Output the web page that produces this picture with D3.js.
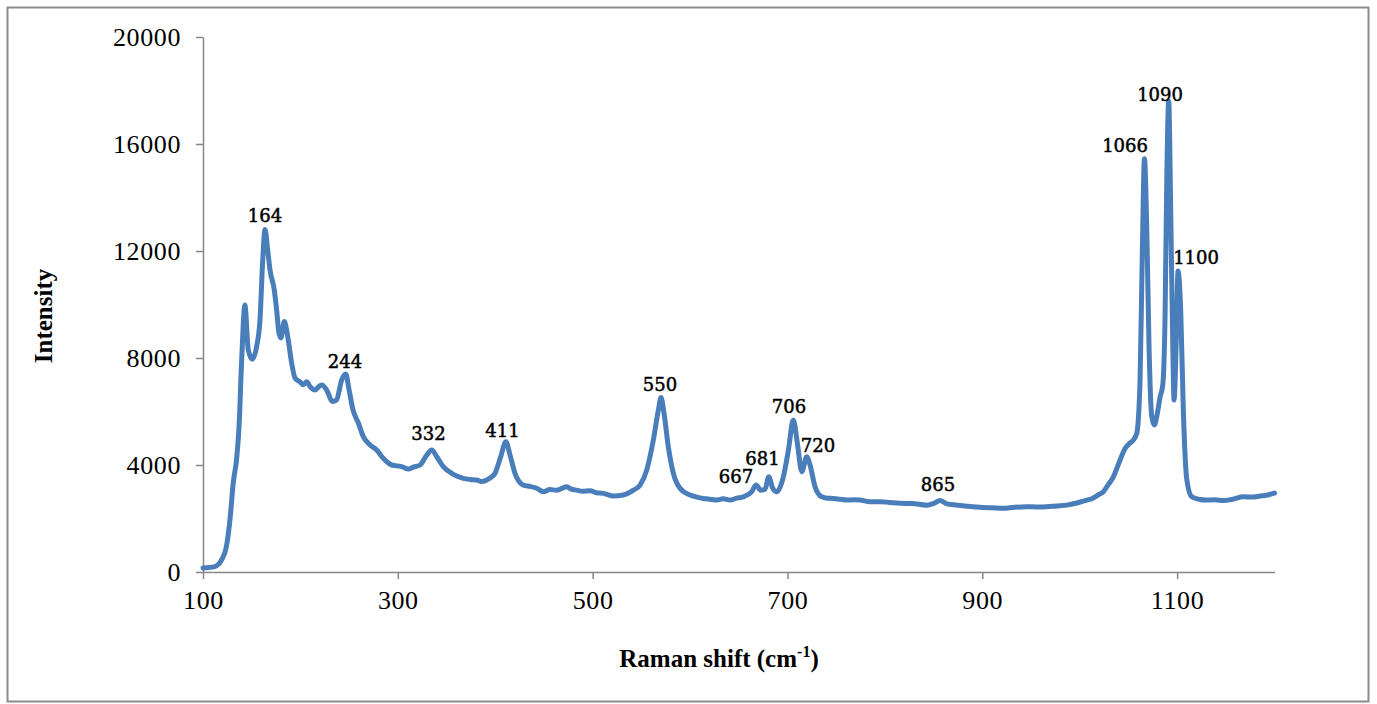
<!DOCTYPE html>
<html>
<head>
<meta charset="utf-8">
<script src="https://cdn.jsdelivr.net/npm/d3@7"></script>
<style>
  body { margin: 0; background: #fff; }
  svg { display: block; }
</style>
</head>
<body>
<div id="chart"></div>
<script>
var width = 1377,
    height = 704;

// spectrum (Raman shift, intensity)
var shift = [100, 112, 119, 124, 128, 131, 134.6, 137, 139.7, 143, 146.5, 150.6, 155, 158.5, 161.3, 163.7, 166.4, 168.8,
  173.2, 175.6, 178, 180, 183.5, 187, 191, 194.5, 199.6, 203, 206.5, 210, 215, 218, 222, 227, 232.8, 237, 242.4, 246.5,
  250, 254, 259.5, 264.6, 271.5, 278.3, 285, 293.7, 304, 310.8, 316, 322.8, 329.7, 334.8, 340, 346.7, 355.3, 361, 367.3,
  374, 381, 386, 391.3, 395, 399.8, 405.6, 411, 415.2, 420.3, 428.9, 436, 442.6, 449.4, 456, 463, 468, 473.4, 478, 483.7,
  490, 497.3, 504, 511, 521.3, 531.5, 541.8, 548.7, 555.5, 562.3, 567.5, 570.2, 573.3, 577.7, 582.9, 589.7, 600, 607,
  613.7, 620, 627.4, 634, 641, 648, 654.7, 663.3, 667.8, 672.6, 677, 680.8, 684.9, 689, 695.8, 701, 706, 710.2, 714.7,
  719.8, 723.2, 728.3, 735.2, 741, 747, 754, 760.9, 768, 774.5, 784.8, 795, 805, 815.6, 828, 843, 850, 856.7, 863, 873.8,
  885, 897.7, 910, 921.7, 933, 945.7, 956, 966.2, 976, 986.8, 997, 1007.3, 1013, 1019, 1024.3, 1029, 1034.6, 1041.5,
  1046.6, 1051, 1055, 1058.6, 1062, 1064.4, 1066.5, 1068.9, 1071.2, 1074, 1076.6, 1079.1, 1082.6, 1085.3, 1087.7, 1089.4,
  1091.4, 1093.5, 1095.6, 1096.9, 1099, 1101, 1103.8, 1106.5, 1110, 1115, 1122, 1130.5, 1139, 1147.5, 1157, 1168, 1176,
  1185.2, 1193, 1200];
var intensity = [150, 200, 450, 950, 2070, 3320, 4260, 5430, 7920, 9980, 8300, 7950, 8420, 9420, 11660, 12800, 12040, 11290,
  10540, 9790, 8930, 8750, 9360, 8800, 7810, 7250, 7110, 7000, 7110, 6930, 6800, 6900, 6990, 6800, 6370, 6430, 7180, 7400,
  6800, 6060, 5570, 5060, 4750, 4560, 4250, 4000, 3940, 3850, 3920, 4000, 4370, 4560, 4310, 3940, 3690, 3580, 3500,
  3460, 3440, 3380, 3440, 3520, 3690, 4310, 4870, 4370, 3690, 3250, 3200, 3130, 3000, 3080, 3060, 3120, 3190, 3100, 3060,
  3020, 3040, 2960, 2940, 2840, 2880, 3060, 3250, 3810, 4930, 6060, 6520, 5930, 4680, 3690, 3130, 2880, 2800,
  2750, 2720, 2690, 2740, 2690, 2760, 2810, 3000, 3250, 3060, 3090, 3560, 3130, 3000, 3560, 4560, 5680, 4810, 3750,
  4310, 4000, 3190, 2810, 2760, 2750, 2720, 2690, 2700, 2690, 2630, 2630, 2600, 2570, 2560, 2500, 2560, 2670, 2560, 2500,
  2460, 2420, 2400, 2380, 2420, 2440, 2430, 2440, 2470, 2500, 2580, 2690, 2750, 2880, 3000, 3250, 3560, 4190,
  4620, 4800, 4930, 5180, 7180, 12160, 15450, 12780, 8420, 5810, 5500, 5810, 6550, 6990, 9670, 14650,
  17600, 13410, 8420, 6430, 8420, 11250, 9670, 5930, 3440, 2810, 2720, 2690, 2700, 2670, 2720, 2810, 2800,
  2840, 2880, 2950];

// peak annotations: text, and where the label sits (shift, intensity)
var peakText = ["164", "244", "332", "411", "550", "667", "681", "706", "720", "865", "1066", "1090", "1100"];
var peakAtX = [163.7, 245.8, 331.5, 407.5, 569.2, 647.2, 674.4, 701.6, 731.4, 854.6, 1046.6, 1082.5, 1119.5];
var peakAtY = [13083, 7625, 4934, 5046, 6766, 3327, 4000, 5943, 4486, 3028, 15700, 17606, 11513];

var xTicks = [100, 300, 500, 700, 900, 1100];
var yTicks = [0, 4000, 8000, 12000, 16000, 20000];

var data = shift.map(function (d, i) { return { x: d, y: intensity[i] }; });

var x = d3.scaleLinear().domain([100, 1200]).range([203, 1274.5]);
var y = d3.scaleLinear().domain([0, 20000]).range([572, 37]);

const svg = d3.select("#chart").append("svg")
    .attr("width", width)
    .attr("height", height);

// outer frame
svg.append("rect")
    .attr("x", 7.5).attr("y", 7.5)
    .attr("width", 1361).attr("height", 694)
    .attr("fill", "#fff")
    .attr("stroke", "#8c8c8c")
    .attr("stroke-width", 2);

const xAxis = svg.append("g")
    .attr("transform", `translate(0,${y(0)})`)
    .call(d3.axisBottom(x).tickValues(xTicks).tickFormat(d3.format("d"))
        .tickSize(7).tickSizeOuter(0).tickPadding(12));

const yAxis = svg.append("g")
    .attr("transform", `translate(${x(100)},0)`)
    .call(d3.axisLeft(y).tickValues(yTicks).tickFormat(d3.format("d"))
        .tickSize(7).tickSizeOuter(0).tickPadding(15));

[xAxis, yAxis].forEach(function (g) {
    g.select(".domain").attr("stroke", "#868686").attr("stroke-width", 1.5);
    g.selectAll(".tick line").attr("stroke", "#868686").attr("stroke-width", 1.5);
    g.selectAll(".tick text")
        .attr("fill", "#000")
        .attr("font-family", "'Liberation Serif', 'Times New Roman', serif")
        .attr("font-size", 26)
        .attr("letter-spacing", 0.6);
});
yAxis.selectAll(".tick text").attr("dy", "0.34em");

svg.append("path")
    .datum(data)
    .attr("fill", "none")
    .attr("stroke", "#4a7ebb")
    .attr("stroke-width", 5)
    .attr("stroke-linejoin", "round")
    .attr("stroke-linecap", "round")
    .attr("d", d3.line()
        .x(d => x(d.x))
        .y(d => y(d.y))
        .curve(d3.curveMonotoneX));

svg.append("g")
    .attr("font-family", "'DejaVu Serif', serif")
    .attr("font-size", 18)
    .attr("fill", "#000")
    .attr("stroke", "#000")
    .attr("stroke-width", 0.5)
    .attr("text-anchor", "middle")
    .selectAll("text")
    .data(peakText)
    .join("text")
    .attr("x", (d, i) => x(peakAtX[i]))
    .attr("y", (d, i) => y(peakAtY[i]))
    .text(d => d);

// axis titles
const xTitle = svg.append("text")
    .attr("x", 719)
    .attr("y", 667)
    .attr("text-anchor", "middle")
    .attr("font-family", "'Liberation Serif', 'Times New Roman', serif")
    .attr("font-weight", "bold")
    .attr("font-size", 25);
xTitle.append("tspan").text("Raman shift (cm");
xTitle.append("tspan").attr("font-size", 16).attr("dy", -10).text("-1");
xTitle.append("tspan").attr("dy", 10).text(")");

svg.append("text")
    .attr("transform", "translate(52,316) rotate(-90)")
    .attr("text-anchor", "middle")
    .attr("font-family", "'Liberation Serif', 'Times New Roman', serif")
    .attr("font-weight", "bold")
    .attr("font-size", 25)
    .text("Intensity");
</script>
</body>
</html>
